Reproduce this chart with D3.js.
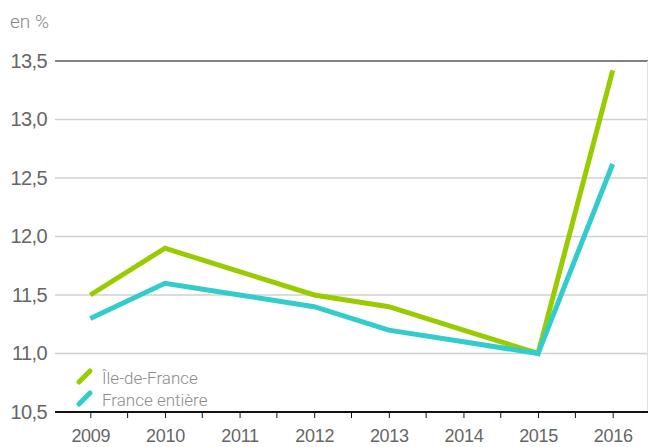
<!DOCTYPE html>
<html>
<head>
<meta charset="utf-8">
<script src="https://cdn.jsdelivr.net/npm/d3@7"></script>
<style>
  body { margin: 0; background: #fff; }
  svg { display: block; font-family: Roboto, "Open Sans", sans-serif; }
  .tick-label { fill: #666; font-weight: 300; }
</style>
</head>
<body>
<div id="chart"></div>
<script>
// Données (en %)
const years = ['2009', '2010', '2011', '2012', '2013', '2014', '2015', '2016'];
const ileDeFrance = [11.5, 11.9, 11.7, 11.5, 11.4, 11.2, 11.0, 13.42];
const franceEntiere = [11.3, 11.6, 11.5, 11.4, 11.2, 11.1, 11.0, 12.62];
const yTicks = [10.5, 11.0, 11.5, 12.0, 12.5, 13.0, 13.5];
const seriesNames = ['Île-de-France', 'France entière'];
const seriesColors = ['#99cc00', '#33cccc'];

const width = 649, height = 447;
const plotLeft = 53, plotRight = 650, plotTop = 61, plotBottom = 412;

const svg = d3.select('#chart').append('svg')
    .attr('width', width)
    .attr('height', height);

// Échelles
const x = d3.scalePoint()
    .domain(years)
    .range([plotLeft, plotRight])
    .padding(0.5);

const y = d3.scaleLinear()
    .domain([10.5, 13.5])
    .range([plotBottom, plotTop]);

const fr = d3.formatLocale({decimal: ',', thousands: ' ', grouping: [3], currency: ['', ' €']});
const fmt = fr.format('.1f');

// Unité
svg.append('text')
    .attr('x', 10)
    .attr('y', 28)
    .attr('fill', '#888')
    .attr('font-size', 19)
    .attr('font-weight', 300)
    .text('en %');

// Grille horizontale
svg.append('g')
    .selectAll('line')
    .data(yTicks.filter(d => d > 10.5))
    .join('line')
    .attr('x1', plotLeft + 2)
    .attr('x2', 648)
    .attr('y1', d => y(d))
    .attr('y2', d => y(d))
    .attr('stroke', d => d === 13.5 ? '#808080' : '#d0d0d0')
    .attr('stroke-width', d => d === 13.5 ? 2 : 1.5);

// Bord droit
svg.append('line')
    .attr('x1', 647.5).attr('x2', 647.5)
    .attr('y1', plotTop).attr('y2', plotBottom)
    .attr('stroke', '#e2e2e2')
    .attr('stroke-width', 1);

// Axe Y
const yAxis = svg.append('g')
    .attr('transform', `translate(${plotLeft},0)`)
    .call(d3.axisLeft(y).tickValues(yTicks).tickFormat(fmt).tickSize(0).tickPadding(6));
yAxis.select('.domain').remove();
yAxis.selectAll('text')
    .attr('class', 'tick-label')
    .attr('font-size', 20)
    .attr('letter-spacing', -0.6)
    .attr('dy', '0.3em');

// Axe X
const xAxis = svg.append('g')
    .attr('transform', `translate(0,${plotBottom})`)
    .call(d3.axisBottom(x).tickSize(6).tickSizeOuter(0).tickPadding(11));
xAxis.select('.domain')
    .attr('d', `M${plotLeft + 2},0H648`)
    .attr('stroke', '#111')
    .attr('stroke-width', 2);
xAxis.selectAll('.tick line').attr('stroke', '#111');
xAxis.selectAll('text')
    .attr('class', 'tick-label')
    .attr('font-size', 18)
    .attr('letter-spacing', -0.3);

// Graduations intermédiaires
xAxis.append('g')
    .selectAll('line')
    .data(years.slice(0, -1))
    .join('line')
    .attr('x1', d => x(d) + x.step() / 2)
    .attr('x2', d => x(d) + x.step() / 2)
    .attr('y1', 0)
    .attr('y2', 6)
    .attr('stroke', '#111');

// Courbes
const line = d3.line()
    .x((d, i) => x(years[i]))
    .y(d => y(d));

[ileDeFrance, franceEntiere].forEach((values, i) => {
    svg.append('path')
        .datum(values)
        .attr('d', line)
        .attr('fill', 'none')
        .attr('stroke', seriesColors[i])
        .attr('stroke-width', 5)
        .attr('stroke-linejoin', 'miter')
        .attr('stroke-linecap', 'butt');
});

// Légende
const legend = svg.append('g');
seriesNames.forEach((name, i) => {
    const ly = 384 + i * 22;
    legend.append('line')
        .attr('x1', 79).attr('y1', ly - 2)
        .attr('x2', 90).attr('y2', ly - 13)
        .attr('stroke', seriesColors[i])
        .attr('stroke-width', 5)
        .attr('stroke-linecap', 'round');
    legend.append('text')
        .attr('x', 102)
        .attr('y', ly)
        .attr('fill', '#8c8c8c')
        .attr('font-size', 17)
        .attr('font-weight', 300)
        .text(name);
});
</script>
</body>
</html>
